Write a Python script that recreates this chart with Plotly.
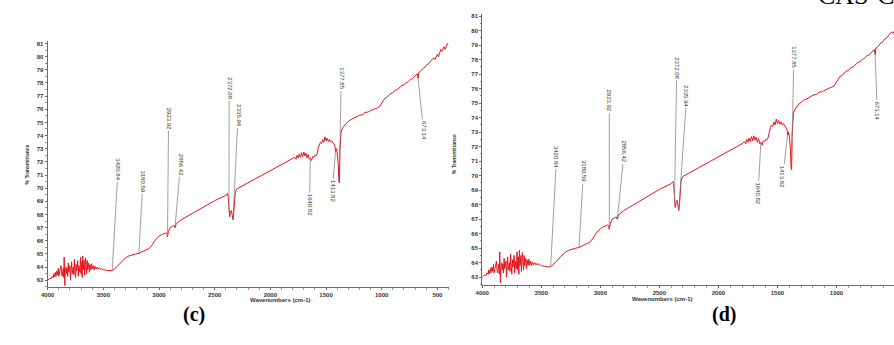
import numpy as np
import plotly.graph_objects as go

# ---------------- data: (wavenumber cm-1, %T) ----------------
seg_noisy_high = [
    (4000, 63.0), (3990, 63.05), (3980, 63.15), (3970, 63.1), (3960, 63.3), (3950, 63.2),
    (3945, 63.5), (3940, 63.25), (3930, 63.6), (3925, 63.3), (3920, 63.7), (3910, 63.4),
    (3905, 63.9), (3900, 63.3), (3890, 63.8), (3880, 64.1), (3875, 63.5), (3870, 63.3),
    (3860, 63.9), (3855, 63.2), (3852, 64.75), (3848, 63.7), (3846, 62.6), (3842, 63.6),
    (3835, 64.0), (3830, 63.5), (3825, 63.9), (3820, 63.3), (3815, 64.3), (3810, 63.6),
    (3800, 64.1), (3795, 63.0), (3790, 63.8), (3785, 64.4), (3780, 63.5), (3770, 64.0),
    (3765, 63.4), (3760, 64.6), (3755, 63.8), (3750, 63.2), (3745, 64.2), (3740, 63.7),
    (3730, 64.5), (3725, 63.3), (3720, 64.1), (3710, 63.6), (3705, 64.75), (3700, 63.5),
    (3695, 64.4), (3690, 63.2), (3685, 64.85), (3680, 63.8), (3672, 64.5), (3668, 63.4),
    (3660, 64.7), (3655, 63.9), (3650, 63.5), (3645, 64.5), (3640, 63.8), (3632, 64.3),
    (3625, 63.6), (3620, 64.2), (3612, 63.8), (3605, 64.25), (3598, 63.85), (3590, 64.1),
    (3582, 63.8), (3575, 64.05), (3565, 63.85), (3555, 64.0), (3545, 63.85), (3535, 63.95),
    (3525, 63.82), (3515, 63.9),
]
seg_ch_co2 = [
    (3500, 63.8), (3470, 63.75), (3440, 63.7), (3420, 63.72), (3400, 63.85), (3370, 64.1),
    (3340, 64.4), (3300, 64.7), (3270, 64.85), (3240, 64.95), (3210, 65.0), (3180, 65.05),
    (3150, 65.2), (3120, 65.3), (3090, 65.4), (3060, 65.7), (3040, 66.0), (3020, 66.2),
    (3000, 66.35), (2980, 66.45), (2960, 66.5), (2940, 66.6), (2930, 66.55), (2924, 66.3),
    (2916, 66.7), (2900, 67.0), (2880, 67.1), (2865, 67.15), (2856, 67.0), (2845, 67.3),
    (2800, 67.6), (2700, 68.1), (2600, 68.6), (2500, 69.05), (2400, 69.45), (2385, 69.6),
    (2378, 69.3), (2372, 68.2), (2366, 67.8), (2358, 68.2), (2350, 68.3), (2342, 67.9),
    (2336, 67.6), (2330, 68.0), (2322, 68.9), (2315, 69.7), (2300, 69.95), (2200, 70.4),
    (2100, 70.85), (2000, 71.3),
]
seg_fingerprint = [
    (1900, 71.8), (1800, 72.2), (1780, 72.35), (1770, 72.2), (1760, 72.5), (1750, 72.3),
    (1740, 72.6), (1730, 72.35), (1720, 72.7), (1710, 72.4), (1700, 72.75), (1690, 72.45),
    (1680, 72.65), (1670, 72.3), (1660, 72.55), (1650, 72.2), (1640, 72.3), (1630, 72.1),
    (1620, 72.4), (1610, 72.35), (1600, 72.5), (1590, 72.45), (1580, 72.6), (1570, 73.1),
    (1560, 73.3), (1550, 73.5), (1540, 73.4), (1530, 73.7), (1520, 73.5), (1510, 73.9),
    (1500, 73.6), (1490, 73.8), (1480, 73.55), (1470, 73.7), (1460, 73.5), (1450, 73.6),
    (1440, 73.45), (1430, 73.4), (1420, 73.2), (1413, 72.8), (1405, 73.0), (1398, 72.6),
    (1390, 71.8), (1385, 70.6), (1380, 70.4), (1376, 72.8), (1372, 73.9), (1365, 74.3),
    (1350, 74.6), (1330, 74.85),
]
seg_low = [
    (1310, 75.0), (1280, 75.2), (1250, 75.3), (1220, 75.45), (1200, 75.55), (1170, 75.6),
    (1150, 75.75), (1120, 75.8), (1100, 75.9), (1080, 75.95), (1060, 76.05), (1040, 76.1),
    (1020, 76.2), (1000, 76.45), (990, 76.6), (980, 76.75), (970, 76.85), (955, 76.9),
    (940, 77.05), (920, 77.2), (900, 77.25), (880, 77.45), (860, 77.5), (840, 77.65),
    (820, 77.8), (800, 77.85), (785, 78.0), (770, 78.05), (755, 78.2), (740, 78.3),
    (725, 78.3), (710, 78.5), (700, 78.55), (690, 78.6), (680, 78.7), (673, 78.35),
    (666, 78.8), (655, 78.85), (640, 79.0), (625, 79.15), (610, 79.2), (595, 79.4),
    (580, 79.45), (565, 79.6), (550, 79.75), (535, 79.9), (520, 79.8), (510, 80.05),
    (500, 80.2), (490, 80.0), (480, 80.35), (470, 80.55), (460, 80.4), (450, 80.6),
    (440, 80.75), (430, 80.55), (420, 80.85), (410, 81.0), (400, 80.9),
]

peak_labels = ["3420.84", "3180.59", "2923.92", "2856.42", "2372.08",
               "2335.94", "1640.82", "1413.82", "1377.85", "673.14"]
peak_wavenumbers = [3420.84, 3180.59, 2923.92, 2856.42, 2372.08,
                    2335.94, 1640.82, 1413.82, 1377.85, 673.14]

x_tick_values = [4000, 3500, 3000, 2500, 2000, 1500, 1000, 500]
y_tick_values = list(range(63, 82))

# label text centres (data coords) for each panel
label_pos_c = [(3368, 71.43), (3145, 70.52), (2914, 75.31), (2807, 71.81),
               (2370, 77.58), (2290, 75.53), (1649, 68.7), (1444, 69.76),
               (1364, 78.34), (625, 74.39)]
label_pos_d = [(3370, 71.32), (3143, 70.29), (2924, 75.16), (2798, 71.66),
               (2353, 77.43), (2269, 75.51), (1664, 68.77), (1454, 69.94),
               (1361, 78.18), (655, 74.48)]

W, H = 894, 345
RED = "#e8141c"
AX = "#6a6a6a"

spectrum = seg_noisy_high + seg_ch_co2 + seg_fingerprint + seg_low
wavenumber_cm1 = [p[0] for p in spectrum]
transmittance_pct = [p[1] for p in spectrum]

w_inc = np.array(wavenumber_cm1, dtype=float)[::-1]
t_inc = np.array(transmittance_pct, dtype=float)[::-1]

fig = go.Figure()
for xa, ya in (("x", "y"), ("x2", "y2")):
    fig.add_trace(go.Scatter(x=wavenumber_cm1, y=transmittance_pct, mode="lines",
                             line=dict(color=RED, width=1), xaxis=xa, yaxis=ya,
                             showlegend=False, hoverinfo="skip"))


def px_x(p):
    return p / W


def px_y(p):
    return (H - p) / H


tickfont = dict(size=6, color="#333", family="Liberation Sans", weight="bold")

common_x = dict(tickvals=x_tick_values, ticktext=[str(v) for v in x_tick_values],
                showline=True, linecolor=AX, linewidth=1, ticks="outside", ticklen=2,
                tickcolor=AX, tickfont=tickfont, showgrid=False, zeroline=False,
                minor=dict(dtick=100, ticks="outside", ticklen=1.5, tickcolor="#999"))
common_y = dict(tickvals=y_tick_values, ticktext=[str(v) for v in y_tick_values],
                showline=True, linecolor=AX, linewidth=1, ticks="outside", ticklen=2,
                tickcolor=AX, tickfont=tickfont, showgrid=False, zeroline=False,
                minor=dict(dtick=0.5, ticks="outside", ticklen=1.5, tickcolor="#999"))

fig.update_layout(
    width=W, height=H, margin=dict(l=0, r=0, t=0, b=0),
    paper_bgcolor="white", plot_bgcolor="white",
    xaxis=dict(domain=[px_x(41), px_x(445)], range=[4000, 400], anchor="y", **common_x),
    yaxis=dict(domain=[px_y(287), px_y(40)], range=[62.47, 81.2], anchor="x", **common_y),
    xaxis2=dict(domain=[px_x(479), 1.0], range=[4000, 513], anchor="y2", **common_x),
    yaxis2=dict(domain=[px_y(285), px_y(13)], range=[62.45, 81.15], anchor="x2", **common_y),
)

annotations = []
for xr, yr, positions in (("x", "y", label_pos_c), ("x2", "y2", label_pos_d)):
    for lab, pw, (tx, ty) in zip(peak_labels, peak_wavenumbers, positions):
        hy = float(np.interp(pw, w_inc, t_inc))
        annotations.append(dict(
            x=pw, y=hy, xref=xr, yref=yr, ax=tx, ay=ty, axref=xr, ayref=yr,
            text=lab, textangle=90, showarrow=True, arrowhead=0, arrowwidth=0.7,
            arrowcolor="#777", standoff=0, startstandoff=0,
            font=dict(size=6, color="#333", family="Liberation Sans")))

# axis titles
for (cx, cy) in ((243, 305), (692, 304)):
    annotations.append(dict(x=px_x(cx), y=px_y(cy), xref="paper", yref="paper",
                            text="Wavenumbers (cm-1)", showarrow=False,
                            font=dict(size=6, color="#333", family="Liberation Sans", weight="bold")))
for (cx, cy) in ((15, 164), (450, 153)):
    annotations.append(dict(x=px_x(cx), y=px_y(cy), xref="paper", yref="paper",
                            text="% Transmittance", textangle=-90, showarrow=False,
                            font=dict(size=5, color="#333", family="Liberation Sans", weight="bold")))

# panel letters
for (cx, cy, t) in ((175, 328, "(c)"), (737, 328, "(d)")):
    annotations.append(dict(x=px_x(cx), y=px_y(cy), xref="paper", yref="paper",
                            text="<b>" + t + "</b>", showarrow=False,
                            font=dict(size=20, color="black", family="Liberation Serif")))

annotations.append(dict(x=px_x(815), y=px_y(11), xref="paper", yref="paper",
                        xanchor="left", yanchor="bottom", text="CAS-C", showarrow=False,
                        font=dict(size=26, color="black", family="Liberation Serif")))

fig.update_layout(annotations=annotations)
fig.write_html("out.html", config={"displayModeBar": False},
               post_script="document.body.style.margin='0';document.body.style.overflow='hidden';")
